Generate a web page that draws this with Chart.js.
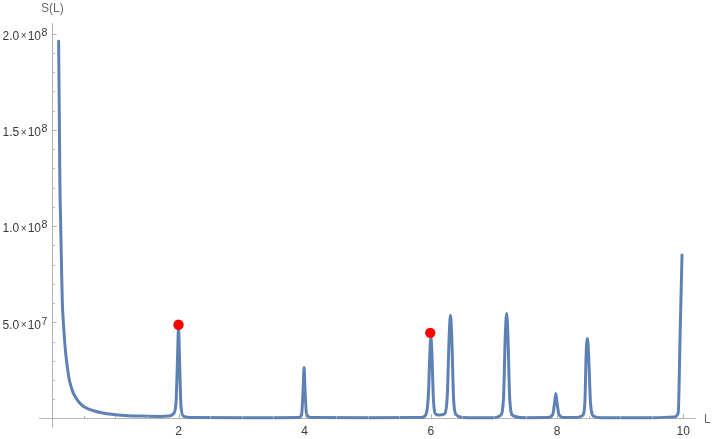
<!DOCTYPE html>
<html lang="en">
<head>
  <meta charset="UTF-8" />
  <title>S(L)</title>
  <script src="https://cdn.jsdelivr.net/npm/chart.js"></script>
  <style>
    body {
      margin: 0;
      background: white;
    }
    .wrap {
      width: 714px;
      height: 439px;
      position: relative;
    }
  </style>
</head>
<body>
  <div class="wrap">
    <canvas id="plot"></canvas>
  </div>

  <script>
    // curve S(L)
    const lValues = [
      0.10, 0.11, 0.12, 0.133, 0.145, 0.159, 0.175, 0.19, 0.215, 0.244,
      0.27, 0.296, 0.33, 0.36, 0.42, 0.49, 0.58, 0.68, 0.80, 0.94,
      1.15, 1.40, 1.70, 1.85, 1.92, 1.96, 1.985, 2.00, 2.015, 2.04,
      2.08, 2.20, 3.00, 3.90, 3.95, 3.975, 3.99, 4.005, 4.03, 4.10,
      5.00, 5.85, 5.92, 5.96, 5.985, 6.00, 6.015, 6.04, 6.08, 6.15,
      6.22, 6.26, 6.29, 6.31, 6.33, 6.36, 6.40, 6.50, 7.00, 7.10,
      7.15, 7.18, 7.20, 7.22, 7.25, 7.30, 7.50, 7.85, 7.93, 7.96,
      7.98, 8.00, 8.03, 8.10, 8.30, 8.40, 8.44, 8.46, 8.48, 8.50,
      8.53, 8.58, 8.70, 9.50, 9.85, 9.92, 9.95, 9.98
    ];
    const sValues = [
      1.96e8, 1.60e8, 1.22e8, 1.00e8, 8.0e7, 6.0e7, 5.0e7, 4.26e7, 3.3e7, 2.54e7,
      2.0e7, 1.67e7, 1.35e7, 1.16e7, 8.6e6, 6.4e6, 4.9e6, 3.8e6, 2.9e6, 2.2e6,
      1.6e6, 1.3e6, 1.1e6, 1.3e6, 2.5e6, 8e6, 3.2e7, 4.75e7, 3.2e7, 6e6,
      1.2e6, 5e5, 4e5, 5e5, 2e6, 1.5e7, 2.65e7, 1.5e7, 2e6, 5e5,
      4e5, 6e5, 2e6, 1.2e7, 3.5e7, 4.24e7, 3.5e7, 1.0e7, 2.2e6, 1.8e6,
      2.5e6, 1.2e7, 4.3e7, 5.36e7, 4.3e7, 1.0e7, 2.0e6, 6e5, 4e5, 1.5e6,
      1.0e7, 4.4e7, 5.45e7, 4.4e7, 1.0e7, 1.5e6, 4e5, 5e5, 2e6, 8e6,
      1.3e7, 8e6, 2e6, 5e5, 5e5, 1.5e6, 8e6, 3.3e7, 4.16e7, 3.3e7,
      8e6, 1.2e6, 4e5, 4e5, 8e5, 3e6, 4.4e7, 8.5e7
    ];

    // highlighted points
    const markL = [2.0, 5.99];
    const markS = [4.87e7, 4.45e7];

    // ticks
    const xTicks = [2, 4, 6, 8, 10];
    const xTickLabels = ['2', '4', '6', '8', '10'];
    const yTicks = [5e7, 1e8, 1.5e8, 2e8];
    const yTickMantissa = ['5.0', '1.0', '1.5', '2.0'];
    const yTickExponent = ['7', '8', '8', '8'];

    const lineColor = 'rgb(94,129,181)';
    const axisColor = '#b4b4b4';
    const labelColor = '#3a3a3a';
    const fontFamily = '"Liberation Sans", Arial, sans-serif';

    // Mathematica style inward ticks, y labels with exponents, axis names
    const axisDecor = {
      id: 'axisDecor',
      afterDraw(chart) {
        const ctx = chart.ctx;
        const xs = chart.scales.x, ys = chart.scales.y;
        const x0 = xs.getPixelForValue(0);
        const y0 = ys.getPixelForValue(0);
        ctx.save();
        ctx.strokeStyle = axisColor;
        ctx.lineWidth = 1;
        ctx.beginPath();
        for (let v = 0.5; v <= 10.01; v += 0.5) {
          const px = Math.round(xs.getPixelForValue(v)) + 0.5;
          const len = xTicks.includes(Math.round(v * 10) / 10) ? 4.5 : 2.5;
          ctx.moveTo(px, y0);
          ctx.lineTo(px, y0 - len);
        }
        for (let k = 1; k <= 20; k++) {
          const v = k * 1e7;
          const py = Math.round(ys.getPixelForValue(v)) + 0.5;
          const len = k % 5 === 0 ? 4.5 : 2.5;
          ctx.moveTo(x0, py);
          ctx.lineTo(x0 + len, py);
        }
        ctx.stroke();

        // y tick labels: mantissa x 10^exp
        ctx.fillStyle = labelColor;
        ctx.textBaseline = 'middle';
        ctx.textAlign = 'right';
        yTicks.forEach((v, i) => {
          const py = ys.getPixelForValue(v);
          let right = x0 - 5;
          ctx.font = '10.5px ' + fontFamily;
          ctx.fillText(yTickExponent[i], right, py - 0.5);
          right -= ctx.measureText(yTickExponent[i]).width + 0.5;
          ctx.font = '12px ' + fontFamily;
          ctx.fillText('10', right, py + 3);
          right -= ctx.measureText('10').width + 1;
          ctx.font = '10px ' + fontFamily;
          ctx.fillText('\u00d7', right, py + 3);
          right -= ctx.measureText('\u00d7').width + 1.5;
          ctx.font = '12px ' + fontFamily;
          ctx.fillText(yTickMantissa[i], right, py + 3);
        });

        // axis names
        ctx.fillStyle = '#6b6b6b';
        ctx.font = '12px ' + fontFamily;
        ctx.textAlign = 'center';
        ctx.fillText('S(L)', x0, chart.chartArea.top - 15);
        ctx.textAlign = 'left';
        ctx.fillText('L', chart.chartArea.right + 8, y0 + 1);
        ctx.restore();
      }
    };

    new Chart(document.getElementById('plot'), {
      type: 'line',
      data: {
        datasets: [
          {
            label: 'S(L)',
            data: lValues.map((l, i) => ({ x: l, y: sValues[i] })),
            borderColor: lineColor,
            borderWidth: 3,
            pointRadius: 0,
            cubicInterpolationMode: 'monotone',
            borderJoinStyle: 'round',
            borderCapStyle: 'round',
            fill: false,
            order: 2
          },
          {
            label: 'marks',
            data: markL.map((l, i) => ({ x: l, y: markS[i] })),
            showLine: false,
            pointRadius: 5.2,
            pointBackgroundColor: 'rgb(255,0,0)',
            pointBorderWidth: 0,
            order: 1
          }
        ]
      },
      options: {
        responsive: true,
        maintainAspectRatio: false,
        animation: false,
        layout: {
          padding: { left: 39.7, right: 18.1, top: 23.9, bottom: 11.8 }
        },
        plugins: {
          legend: { display: false },
          tooltip: { enabled: false }
        },
        scales: {
          x: {
            type: 'linear',
            min: -0.2,
            max: 10.2,
            position: { y: 0 },
            afterBuildTicks: s => { s.ticks = xTicks.map(v => ({ value: v })); },
            ticks: {
              color: labelColor,
              font: { family: fontFamily, size: 12 },
              padding: 6,
              maxRotation: 0,
              callback: v => xTickLabels[xTicks.indexOf(v)]
            },
            grid: { display: false, drawTicks: false },
            border: { display: true, color: axisColor, width: 1 }
          },
          y: {
            type: 'linear',
            min: -4.5e6,
            max: 2.05e8,
            position: { x: 0 },
            ticks: { display: false },
            grid: { display: false, drawTicks: false },
            border: { display: true, color: axisColor, width: 1 }
          }
        }
      },
      plugins: [axisDecor]
    });
  </script>
</body>
</html>
